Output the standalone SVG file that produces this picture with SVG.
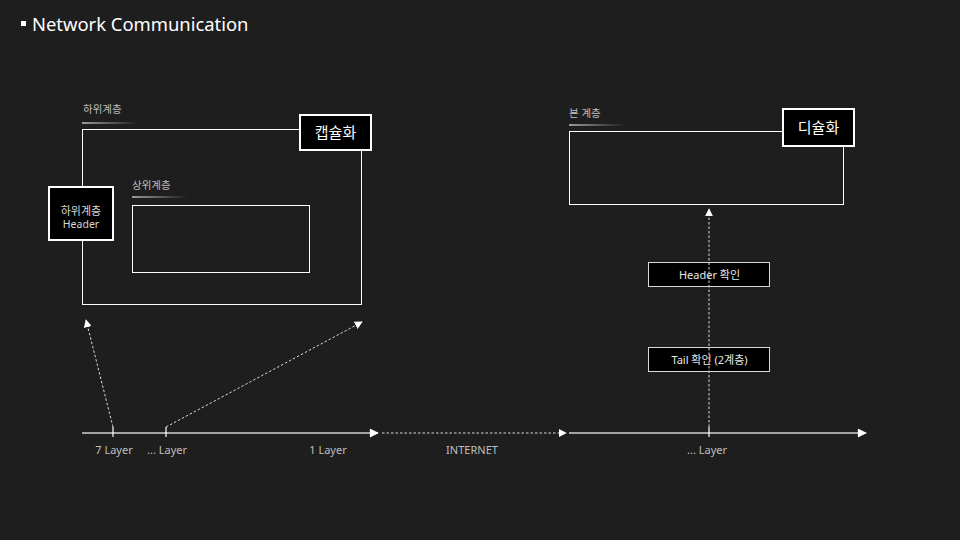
<svg xmlns="http://www.w3.org/2000/svg" width="960" height="540" viewBox="0 0 960 540">
<defs>
<style>
text{font-family:"Noto Sans","Noto Sans CJK KR",sans-serif;}
.lbl{fill:#bfbfbf;font-size:10.5px;}
.ax{fill:#bfbfbf;font-size:11px;text-anchor:middle;}
.box{fill:none;stroke:#ffffff;stroke-width:1;}
.tag{fill:#000000;stroke:#ffffff;stroke-width:2;}
.tagt{fill:#ffffff;font-size:15px;text-anchor:middle;}
.chk{fill:#000000;stroke:#d9d9d9;stroke-width:1;}
.chkt{fill:#e6e6e6;font-size:11px;text-anchor:middle;}
.axis{stroke:#d0d0d0;stroke-width:1.5;fill:none;}
.dash{stroke:#d9d9d9;stroke-width:1;stroke-dasharray:2.5 2;fill:none;}
.tick{stroke:#ffffff;stroke-width:1.2;}
</style>
<linearGradient id="ul" x1="0" x2="1" y1="0" y2="0">
<stop offset="0" stop-color="#9a9a9a"/>
<stop offset="1" stop-color="#9a9a9a" stop-opacity="0"/>
</linearGradient>
<marker id="ah" viewBox="0 0 10 10" refX="9" refY="5" markerWidth="8" markerHeight="8" markerUnits="userSpaceOnUse" orient="auto">
<path d="M0,0 L10,5 L0,10 z" fill="#ffffff"/>
</marker>
<marker id="ahb" viewBox="0 0 10 10" refX="9" refY="5" markerWidth="11" markerHeight="9" markerUnits="userSpaceOnUse" orient="auto">
<path d="M0,0 L10,5 L0,10 z" fill="#ffffff"/>
</marker>
</defs>
<rect x="0" y="0" width="960" height="540" fill="#1e1e1e"/>
<g id="title">
<rect x="21" y="21" width="5" height="5" fill="#ffffff"/>
<text x="32" y="31" fill="#ffffff" font-size="18.4">Network Communication</text>
</g>
<g id="lower-layer">
<text class="lbl" x="83" y="113">하위계층</text>
<rect x="82" y="122" width="56" height="2" fill="url(#ul)"/>
<rect class="box" x="82.5" y="129.5" width="279" height="175"/>
</g>
<g id="upper-layer">
<text class="lbl" x="132" y="189">상위계층</text>
<rect x="132" y="196" width="56" height="2" fill="url(#ul)"/>
<rect class="box" x="132.5" y="205.5" width="177" height="67"/>
</g>
<g id="encap">
<rect class="tag" x="300" y="115" width="71" height="35"/>
<text class="tagt" x="335.5" y="138">캡슐화</text>
</g>
<g id="lower-header">
<rect class="tag" x="49" y="187" width="64" height="53"/>
<text x="81" y="215" fill="#d9d9d9" font-size="11" text-anchor="middle">하위계층</text>
<text x="81" y="228" fill="#d9d9d9" font-size="10.5" text-anchor="middle">Header</text>
</g>
<g id="this-layer">
<text class="lbl" x="569" y="117">본 계층</text>
<rect x="569" y="124" width="56" height="2" fill="url(#ul)"/>
<rect class="box" x="569.5" y="131.5" width="274" height="73"/>
</g>
<g id="decap">
<rect class="tag" x="783" y="109" width="71" height="37"/>
<text class="tagt" x="818.5" y="133">디슐화</text>
</g>
<g id="header-check">
<rect class="chk" x="648.5" y="262.5" width="121" height="24"/>
<text class="chkt" x="709.5" y="279">Header 확인</text>
</g>
<g id="tail-check">
<rect class="chk" x="648.5" y="347.5" width="121" height="24"/>
<text class="chkt" x="709.5" y="364">Tail 확인 (2계층)</text>
</g>
<g id="connectors">
<line class="axis" x1="82" y1="433" x2="378" y2="433" marker-end="url(#ahb)"/>
<line class="dash" x1="382" y1="433" x2="566" y2="433" marker-end="url(#ah)"/>
<line class="axis" x1="569" y1="433" x2="866" y2="433" marker-end="url(#ahb)"/>
<line class="tick" x1="113" y1="427" x2="113" y2="437"/>
<line class="tick" x1="166" y1="427" x2="166" y2="437"/>
<line class="tick" x1="709" y1="427" x2="709" y2="437"/>
<line class="dash" x1="113" y1="427" x2="86" y2="320" marker-end="url(#ah)"/>
<line class="dash" x1="166" y1="427" x2="362" y2="322" marker-end="url(#ah)"/>
<line class="dash" x1="709" y1="427" x2="709" y2="209" marker-end="url(#ah)"/>
</g>
<g id="axis-labels">
<text class="ax" x="114" y="454">7 Layer</text>
<text class="ax" x="167" y="454">... Layer</text>
<text class="ax" x="328" y="454">1 Layer</text>
<text class="ax" x="472" y="454">INTERNET</text>
<text class="ax" x="707" y="454">... Layer</text>
</g>
</svg>
